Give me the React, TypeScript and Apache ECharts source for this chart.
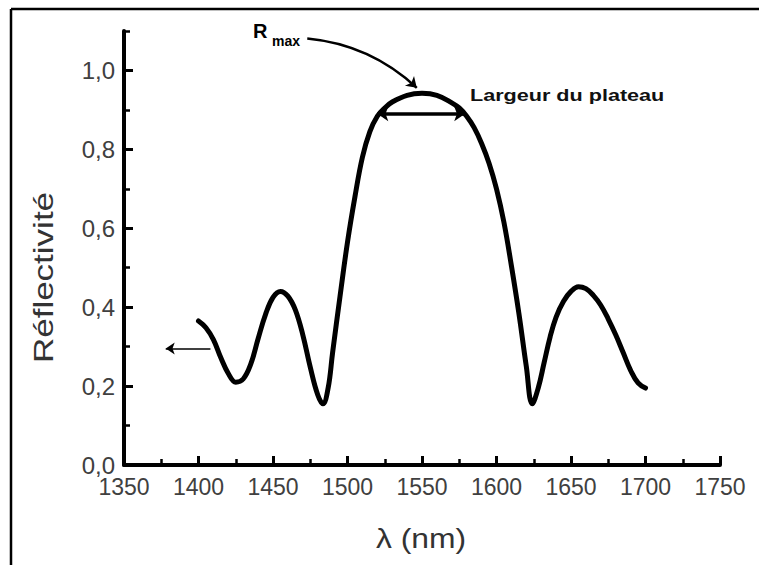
import { useEffect, useRef } from 'react';
import * as echarts from 'echarts';

// Reflectivity spectrum
const lambdaNm = [1400, 1405, 1410, 1415, 1420, 1425, 1430, 1435, 1440, 1445, 1450, 1455, 1460, 1465, 1470, 1475, 1480, 1483.5, 1487, 1490, 1495, 1500, 1505, 1510, 1515, 1520, 1525, 1530, 1540, 1550, 1560, 1570, 1575, 1580, 1585, 1590, 1595, 1600, 1605, 1610, 1615, 1620, 1624, 1628, 1632, 1636, 1640, 1645, 1650, 1655, 1660, 1665, 1670, 1675, 1680, 1685, 1690, 1695, 1700];
const reflectivity = [0.365, 0.348, 0.318, 0.272, 0.232, 0.21, 0.218, 0.255, 0.32, 0.382, 0.425, 0.44, 0.428, 0.393, 0.33, 0.248, 0.178, 0.155, 0.195, 0.285, 0.428, 0.565, 0.68, 0.78, 0.845, 0.884, 0.905, 0.92, 0.937, 0.942, 0.937, 0.918, 0.905, 0.884, 0.855, 0.815, 0.765, 0.7, 0.615, 0.505, 0.385, 0.25, 0.155, 0.195, 0.26, 0.325, 0.375, 0.415, 0.44, 0.452, 0.447, 0.43, 0.405, 0.37, 0.33, 0.285, 0.24, 0.208, 0.195];

// Axes
const xRange = [1350, 1750];
const xStep = 50;
const yRange = [0, 1.1];
const yStep = 0.2;
const yMinorStep = 0.1;

// Annotations (data coordinates)
const leftArrow = [[1408, 0.295], [1378, 0.295]];
const plateauArrow = [[1520, 0.89], [1579, 0.89]];
const rmaxArrow = [[1473, 1.081], [1546.5, 0.956]];

const axisNameX = 'λ (nm)';
const axisNameY = 'Réflectivité';
const plateauLabel = 'Largeur du plateau';

export default function App() {
  const ref = useRef<HTMLDivElement>(null);
  useEffect(() => {
    const chart = echarts.init(ref.current!, null, { renderer: 'svg' });
    const seriesData = lambdaNm.map((x, i) => [x, reflectivity[i]]);
    const labelFont = 'Liberation Sans, Arial, sans-serif';
    chart.setOption({
      animation: false,
      backgroundColor: '#ffffff',
      grid: { left: 124, right: 39, top: 31, bottom: 100, containLabel: false },
      xAxis: {
        type: 'value',
        min: xRange[0],
        max: xRange[1],
        interval: xStep,
        axisLine: { show: true, onZero: false, lineStyle: { color: '#000', width: 4 } },
        axisTick: { show: true, inside: true, length: 9, lineStyle: { color: '#000', width: 3 } },
        minorTick: { show: true, splitNumber: 2, length: 6, lineStyle: { color: '#000', width: 2.5 } },
        splitLine: { show: false },
        axisLabel: {
          margin: 10,
          color: '#404040',
          fontSize: 23,
          fontFamily: labelFont,
          formatter: (v: number) => String(v),
        },
      },
      yAxis: [
        {
          type: 'value',
          min: yRange[0],
          max: yRange[1],
          interval: yStep,
          axisLine: { show: true, onZero: false, lineStyle: { color: '#000', width: 4 } },
          axisTick: { show: true, inside: true, length: 9, lineStyle: { color: '#000', width: 3 } },
          splitLine: { show: false },
          axisLabel: {
            margin: 9,
            color: '#404040',
            fontSize: 24,
            lineHeight: 16,
            fontFamily: labelFont,
            showMaxLabel: false,
            formatter: (v: number) => v.toFixed(1).replace('.', ','),
          },
        },
        {
          type: 'value',
          min: yRange[0],
          max: yRange[1],
          interval: yMinorStep,
          position: 'left',
          axisLine: { show: false },
          axisTick: { show: true, inside: true, length: 6, lineStyle: { color: '#000', width: 2.5 } },
          splitLine: { show: false },
          axisLabel: { show: false },
        },
      ],
      series: [
        {
          type: 'line',
          data: seriesData,
          showSymbol: false,
          smooth: 0.4,
          lineStyle: { color: '#000', width: 5, cap: 'round', join: 'round' },
          silent: true,
          markLine: {
            silent: true,
            animation: false,
            label: { show: false },
            emphasis: { disabled: true },
            data: [
              [
                { coord: leftArrow[0], symbol: 'none', lineStyle: { color: '#000', width: 1.5, type: 'solid' } },
                { coord: leftArrow[1], symbol: 'arrow', symbolSize: 9 },
              ],
              [
                { coord: plateauArrow[0], symbol: 'arrow', symbolSize: 11, lineStyle: { color: '#000', width: 3.5, type: 'solid' } },
                { coord: plateauArrow[1], symbol: 'arrow', symbolSize: 11 },
              ],
            ],
          },
        },
        {
          type: 'lines',
          coordinateSystem: 'cartesian2d',
          silent: true,
          symbol: ['none', 'arrow'],
          symbolSize: 10,
          lineStyle: { color: '#000', width: 2.5, opacity: 1, curveness: 0.17 },
          data: [{ coords: rmaxArrow }],
        },
      ],
      graphic: [
        { type: 'line', silent: true, shape: { x1: 11, y1: 9, x2: 759, y2: 9 }, style: { stroke: '#000', lineWidth: 2.5 } },
        { type: 'line', silent: true, shape: { x1: 11, y1: 9, x2: 11, y2: 565 }, style: { stroke: '#000', lineWidth: 2.5 } },
        {
          type: 'text', silent: true, x: 43, y: 277.5, rotation: Math.PI / 2, scaleX: 1.25,
          style: { text: axisNameY, fill: '#333', fontSize: 28, fontFamily: labelFont, align: 'center', verticalAlign: 'middle' },
        },
        {
          type: 'text', silent: true, x: 421, y: 538, scaleX: 1.18,
          style: { text: axisNameX, fill: '#333', fontSize: 27, fontFamily: labelFont, align: 'center', verticalAlign: 'middle' },
        },
        {
          type: 'text', silent: true, x: 253, y: 30.5,
          style: { text: 'R', fill: '#000', fontSize: 20, fontWeight: 'bold', fontFamily: labelFont, align: 'left', verticalAlign: 'middle' },
        },
        {
          type: 'text', silent: true, x: 272, y: 41,
          style: { text: 'max', fill: '#000', fontSize: 14, fontWeight: 'bold', fontFamily: labelFont, align: 'left', verticalAlign: 'middle' },
        },
        {
          type: 'text', silent: true, x: 470, y: 94.5, scaleX: 1.27,
          style: { text: plateauLabel, fill: '#111', fontSize: 17, fontWeight: 'bold', fontFamily: labelFont, align: 'left', verticalAlign: 'middle' },
        },
      ],
    });
    return () => chart.dispose();
  }, []);
  return (
    <div
      ref={ref}
      style={{ position: 'fixed', left: 0, top: 0, width: 759, height: 565, background: '#fff' }}
    />
  );
}
